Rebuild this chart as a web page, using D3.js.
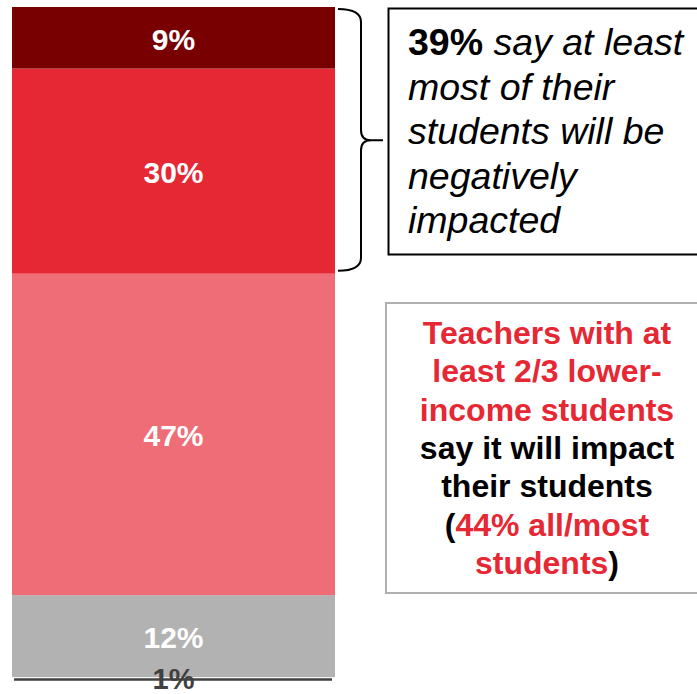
<!DOCTYPE html>
<html>
<head>
<meta charset="utf-8">
<script src="https://cdn.jsdelivr.net/npm/d3@7"></script>
<style>
  html, body { margin: 0; padding: 0; background: #fff; }
  svg { display: block; font-family: "Liberation Sans", Arial, sans-serif; }
</style>
</head>
<body>
<svg id="chart" width="697" height="694"></svg>
<script>
// Share of teachers by how many of their students they expect to be affected (bottom to top)
const categories = ["Not sure", "None", "Some", "Most", "All"];
const values = [1, 12, 47, 30, 9];
const colors = ["#404040", "#b2b2b2", "#ee6d77", "#e62734", "#780000"];
const labelColors = ["#404040", "#fff", "#fff", "#fff", "#fff"];
const labels = ["1%", "12%", "47%", "30%", "9%"];

const calloutLines = [
  [{ t: "39%", bold: true }, { t: " say at least", bold: false }],
  [{ t: "most of their", bold: false }],
  [{ t: "students will be", bold: false }],
  [{ t: "negatively", bold: false }],
  [{ t: "impacted", bold: false }]
];

const noteLines = [
  [{ t: "Teachers with at", red: true }],
  [{ t: "least 2/3 lower-", red: true }],
  [{ t: "income students", red: true }],
  [{ t: "say it will impact", red: false }],
  [{ t: "their students", red: false }],
  [{ t: "(", red: false }, { t: "44% all/most", red: true }],
  [{ t: "students", red: true }, { t: ")", red: false }]
];

const svg = d3.select("#chart");

// one row holding every category, stacked bottom-up
const row = {};
categories.forEach((c, i) => row[c] = values[i]);
const series = d3.stack().keys(categories)([row]);

const total = d3.sum(values);
const y = d3.scaleLinear().domain([0, total]).range([684, 7]);
const x = d3.scaleBand().domain(["Teachers"]).range([12, 335]).padding(0);
const cx = x("Teachers") + x.bandwidth() / 2;

const barG = svg.append("g");
const labelG = svg.append("g");

series.forEach((s, i) => {
  const d = s[0];
  const y0 = y(d[0]), y1 = y(d[1]);
  const mid = (y0 + y1) / 2;
  if (i === 0) {
    // the thin "not sure" sliver is shown as a rule at the foot of the bar
    barG.append("line")
      .attr("x1", x("Teachers") + 2).attr("x2", x("Teachers") + x.bandwidth() - 3)
      .attr("y1", mid - 1).attr("y2", mid - 1)
      .attr("stroke", colors[i]).attr("stroke-width", 2.5);
  } else {
    barG.append("rect")
      .attr("x", x("Teachers"))
      .attr("width", x.bandwidth())
      .attr("y", y1)
      .attr("height", y0 - y1)
      .attr("fill", colors[i]);
  }
  labelG.append("text")
    .attr("x", cx)
    .attr("y", i === 0 ? mid - 2 : mid + 1)
    .attr("dy", "0.36em")
    .attr("text-anchor", "middle")
    .attr("font-weight", "bold")
    .attr("font-size", i === 0 ? 29 : 30)
    .attr("fill", labelColors[i])
    .text(labels[i]);
});

// curly brace spanning the "All" + "Most" segments
const braceTop = y(total) + 2;
const braceBot = y(total - values[4] - values[3]) - 3;
const braceMid = (y(total) + y(total - values[4] - values[3])) / 2;
const bx = 361, ex = 338, tip = 383;
svg.append("path")
  .attr("d", `M${ex},${braceTop} Q${bx},${braceTop} ${bx},${braceTop + 13} L${bx},${braceMid - 10} Q${bx},${braceMid} ${bx + 10},${braceMid} L${tip},${braceMid} M${bx + 10},${braceMid} Q${bx},${braceMid} ${bx},${braceMid + 10} L${bx},${braceBot - 13} Q${bx},${braceBot} ${ex},${braceBot}`)
  .attr("fill", "none")
  .attr("stroke", "#000")
  .attr("stroke-width", 2);

// callout box
svg.append("rect")
  .attr("x", 388.5).attr("y", 8.5)
  .attr("width", 320).attr("height", 246)
  .attr("fill", "#fff")
  .attr("stroke", "#000")
  .attr("stroke-width", 2);

const callout = svg.append("text")
  .attr("font-size", 37.5)
  .attr("fill", "#000");
calloutLines.forEach((line, i) => {
  const t = callout.append("tspan").attr("x", 408).attr("y", 55 + i * 44.5);
  line.forEach(part => {
    t.append("tspan")
      .attr("font-weight", part.bold ? "bold" : "normal")
      .attr("font-style", part.bold ? "normal" : "italic")
      .text(part.t);
  });
});

// note box
svg.append("rect")
  .attr("x", 386).attr("y", 303)
  .attr("width", 322).attr("height", 290)
  .attr("fill", "#fff")
  .attr("stroke", "#b0b0b0")
  .attr("stroke-width", 2);

const note = svg.append("text")
  .attr("font-size", 32)
  .attr("font-weight", "bold")
  .attr("text-anchor", "middle");
noteLines.forEach((line, i) => {
  const t = note.append("tspan").attr("x", 547).attr("y", 344 + i * 38.3);
  line.forEach(part => {
    t.append("tspan")
      .attr("fill", part.red ? "#e62734" : "#000")
      .text(part.t);
  });
});
</script>
</body>
</html>
